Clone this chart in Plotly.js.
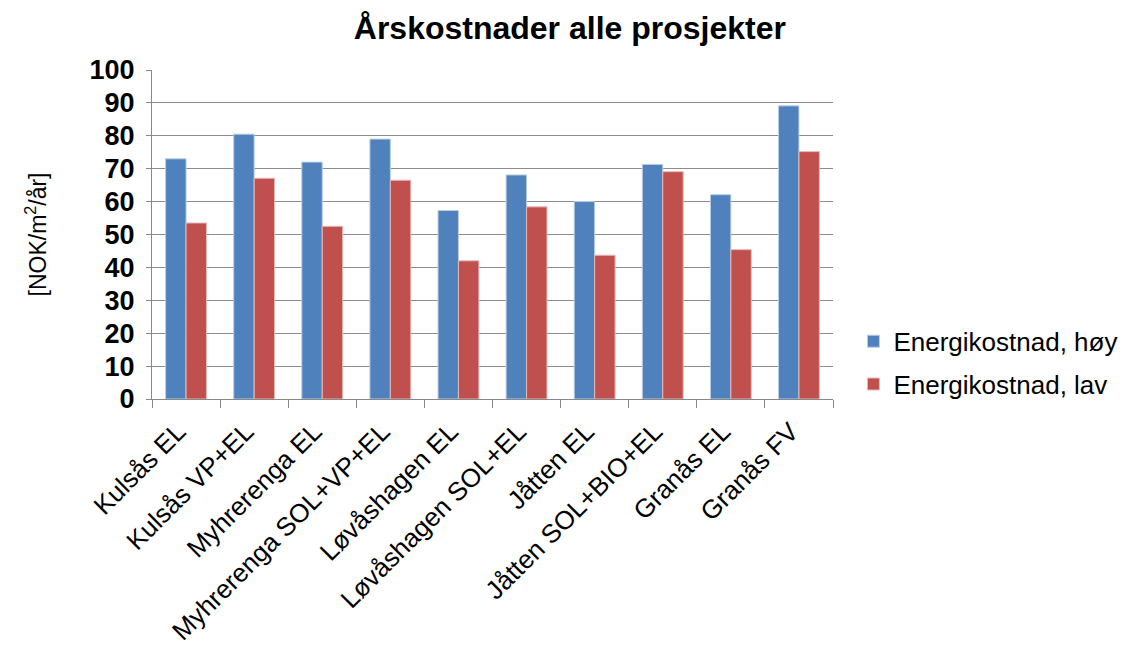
<!DOCTYPE html>
<html><head><meta charset="utf-8">
<script src="https://cdn.plot.ly/plotly-3.0.1.min.js"></script>
<style>html,body{margin:0;padding:0;background:#fff}#c{width:1124px;height:651px}</style>
</head><body><div id="c"></div>
<script>
const categories = ["Kulsås EL","Kulsås VP+EL","Myhrerenga EL","Myhrerenga SOL+VP+EL","Løvåshagen EL","Løvåshagen SOL+EL","Jåtten EL","Jåtten SOL+BIO+EL","Granås EL","Granås FV"];
const hoy = [73, 80.5, 72, 79, 57.3, 68.1, 60, 71.3, 62.1, 89.1];
const lav = [53.5, 67.1, 52.5, 66.5, 42, 58.4, 43.7, 69.1, 45.4, 75.2];
const yTicks = [0,10,20,30,40,50,60,70,80,90,100];

const traces = [
  {type:'bar', name:'Energikostnad, høy', x:categories, y:hoy, legendgroup:'a',
   marker:{color:'#4F81BD', line:{color:'#B9CDE5', width:1}}},
  {type:'bar', name:'Energikostnad, lav', x:categories, y:lav, legendgroup:'b',
   marker:{color:'#C0504D', line:{color:'#E6B9B8', width:1}}}
];
const layout = {
  width:1124, height:651,
  margin:{l:152, r:291, t:70, b:252, autoexpand:false},
  paper_bgcolor:'#fff', plot_bgcolor:'#fff',
  font:{family:'Liberation Sans, Arial, sans-serif', color:'#000'},
  title:{text:'<b>Årskostnader alle prosjekter</b>', x:0.507, xanchor:'center', y:0.958, yanchor:'middle',
         font:{size:32, color:'#000'}},
  barmode:'group', bargap:0.4, bargroupgap:0,
  showlegend:true,
  legend:{x:1.03, xanchor:'left', y:0.11, yanchor:'middle', font:{size:26}, tracegroupgap:6,
          itemwidth:30, bgcolor:'rgba(0,0,0,0)'},
  xaxis:{type:'category', tickangle:-45, tickfont:{size:26}, ticks:'outside', tickson:'boundaries',
         ticklen:8, tickcolor:'#888', showline:true, linecolor:'#888', linewidth:1, showgrid:false,
         ticklabelstandoff:6, ticklabelshift:-8},
  yaxis:{range:[0,100], tickvals:yTicks, ticktext:yTicks.map(String), tickfont:{size:27, weight:'bold'},
         showgrid:true, gridcolor:'#8c8c8c', gridwidth:1, showline:true, linecolor:'#888',
         ticks:'outside', ticklen:5, tickcolor:'#888', zeroline:false, ticklabelstandoff:6,
         title:{text:'[NOK/m<sup>2</sup>/år]', font:{size:23}, standoff:36}}
};
Plotly.newPlot('c', traces, layout, {displayModeBar:false, staticPlot:true});
</script></body></html>
